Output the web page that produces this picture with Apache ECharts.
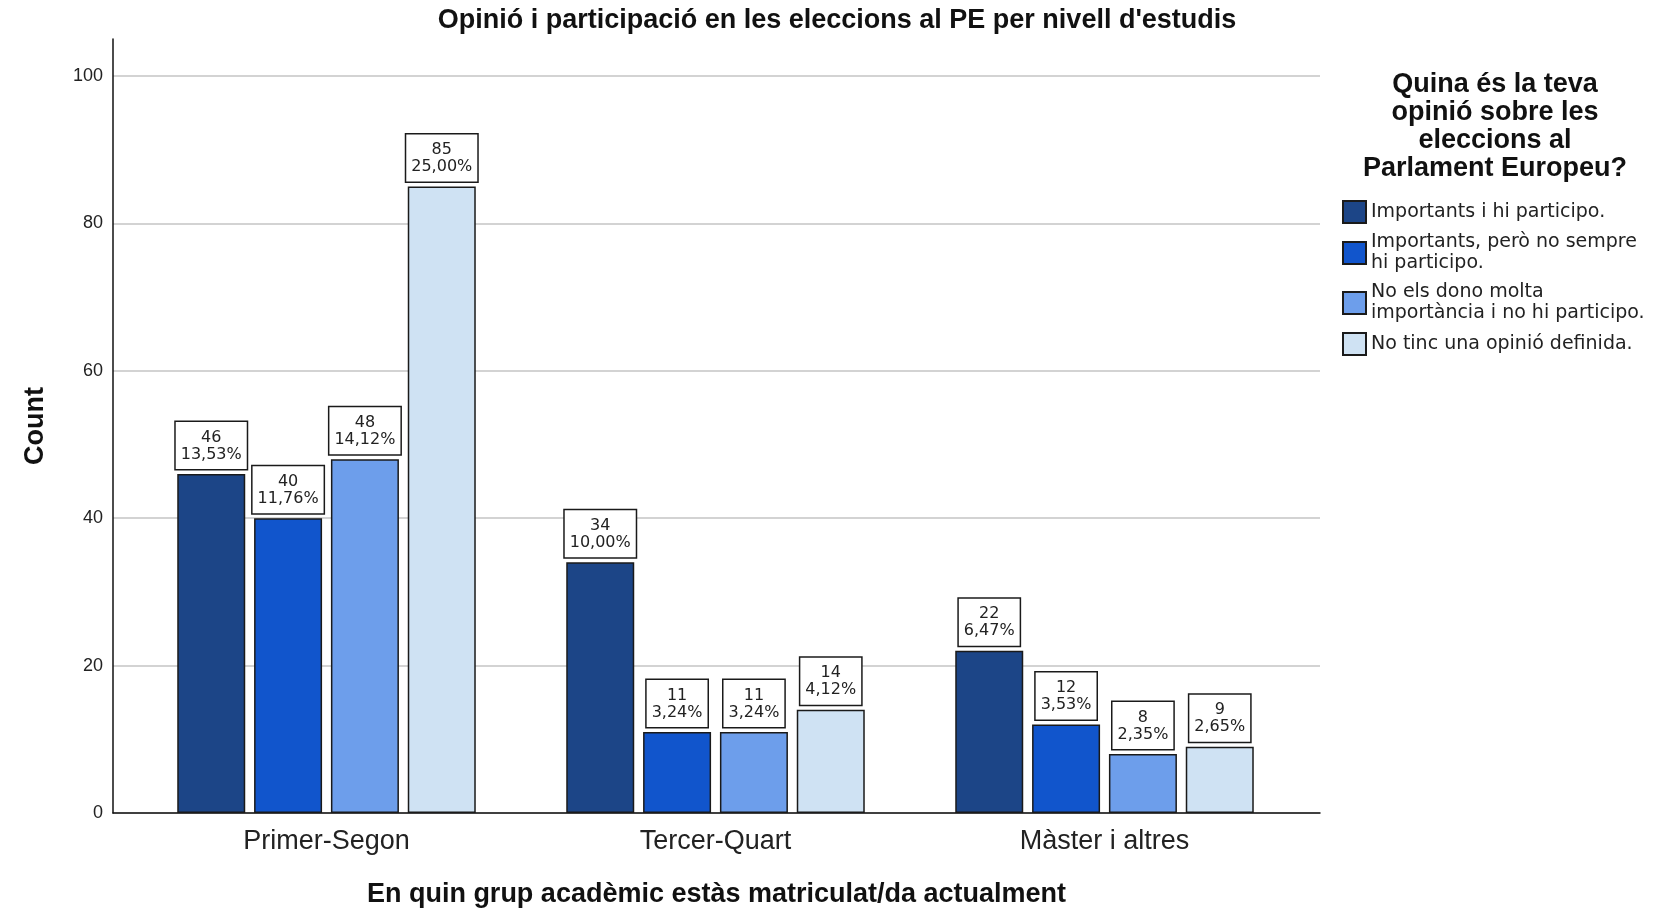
<!DOCTYPE html>
<html>
<head>
<meta charset="utf-8">
<script src="https://cdn.jsdelivr.net/npm/echarts@6/dist/echarts.min.js"></script>
<style>
  html, body { margin: 0; padding: 0; background: #fff; }
  #chart { width: 1678px; height: 909px; }
</style>
</head>
<body>
<div id="chart"></div>
<script>
// grups acadèmics (eix x)
const groups = ['Primer-Segon', 'Tercer-Quart', 'Màster i altres'];

// opinions (sèries), amb salt de línia com a la llegenda
const opinions = [
  'Importants i hi participo.',
  'Importants, però no sempre\nhi participo.',
  'No els dono molta\nimportància i no hi participo.',
  'No tinc una opinió definida.'
];

// recomptes per opinió
const countImportantVote = [46, 34, 22];
const countImportantSometimes = [40, 11, 12];
const countNoImportance = [48, 11, 8];
const countNoOpinion = [85, 14, 9];

// percentatges sobre el total
const pctImportantVote = [13.53, 10.00, 6.47];
const pctImportantSometimes = [11.76, 3.24, 3.53];
const pctNoImportance = [14.12, 3.24, 2.35];
const pctNoOpinion = [25.00, 4.12, 2.65];

const yTicks = [0, 20, 40, 60, 80, 100];

const colors = ['#1c4587', '#1155cc', '#6d9eeb', '#cfe2f3'];
const counts = [countImportantVote, countImportantSometimes, countNoImportance, countNoOpinion];
const pcts = [pctImportantVote, pctImportantSometimes, pctNoImportance, pctNoOpinion];

const chart = echarts.init(document.getElementById('chart'));

const series = opinions.map((name, i) => ({
  name: name,
  type: 'bar',
  xAxisIndex: 1,
  yAxisIndex: 1,
  barWidth: 68,
  barGap: '13%',
  itemStyle: { color: colors[i], borderColor: '#1a1a1a', borderWidth: 1.5 },
  label: {
    show: true,
    position: 'top',
    distance: 5,
    formatter: p => p.value + '\n' + pcts[i][p.dataIndex].toFixed(2).replace('.', ',') + '%',
    fontFamily: 'DejaVu Sans',
    fontSize: 16,
    lineHeight: 17,
    color: '#222',
    backgroundColor: '#fff',
    borderColor: '#1a1a1a',
    borderWidth: 1.5,
    padding: [7, 5, 6, 5]
  },
  data: counts[i]
}));

const option = {
  animation: false,
  backgroundColor: '#fff',
  graphic: [
    {
      type: 'text', x: 837, y: 21,
      style: {
        text: "Opinió i participació en les eleccions al PE per nivell d'estudis",
        font: 'bold 27px "Liberation Sans", Arial, sans-serif',
        fill: '#111', textAlign: 'center', textVerticalAlign: 'middle'
      }
    },
    {
      type: 'text', x: 1495, y: 127,
      style: {
        text: 'Quina és la teva\nopinió sobre les\neleccions al\nParlament Europeu?',
        font: 'bold 27px "Liberation Sans", Arial, sans-serif',
        lineHeight: 28,
        fill: '#111', textAlign: 'center', textVerticalAlign: 'middle'
      }
    }
  ],
  legend: {
    orient: 'vertical',
    left: 1342,
    top: 200,
    padding: 0,
    itemGap: 8,
    itemWidth: 23,
    itemHeight: 22,
    icon: 'rect',
    data: opinions,
    textStyle: { fontFamily: 'DejaVu Sans', fontSize: 19, lineHeight: 21, color: '#222' }
  },
  grid: [
    { left: 113, right: 358, top: 39, bottom: 96, outerBoundsMode: 'none', containLabel: false },
    { left: 132, right: 379, top: 39, bottom: 96, outerBoundsMode: 'none', containLabel: false }
  ],
  xAxis: [
    {
      type: 'value', gridIndex: 0, min: 0, max: 1,
      axisLine: { show: true, lineStyle: { color: '#111', width: 1.5 } },
      axisTick: { show: false }, axisLabel: { show: false }, splitLine: { show: false },
      name: 'En quin grup acadèmic estàs matriculat/da actualment',
      nameLocation: 'middle',
      nameGap: 68,
      nameTextStyle: { fontFamily: 'Liberation Sans', fontWeight: 'bold', fontSize: 27, color: '#111' }
    },
    {
      type: 'category', gridIndex: 1, data: groups,
      axisLine: { show: false }, axisTick: { show: false },
      axisLabel: { margin: 15, fontFamily: 'Liberation Sans', fontSize: 27, color: '#222' }
    }
  ],
  yAxis: [
    {
      type: 'value', gridIndex: 0, min: 0, max: 105, interval: 20,
      axisLine: { show: true, lineStyle: { color: '#111', width: 1.5 } },
      axisTick: { show: false },
      axisLabel: {
        margin: 10, fontFamily: 'Liberation Sans', fontSize: 18, color: '#222',
        formatter: v => (yTicks.indexOf(v) >= 0 ? String(v) : '')
      },
      splitLine: { show: true, showMaxLine: false, lineStyle: { color: '#c4c4c4', width: 1.5 } },
      name: 'Count',
      nameLocation: 'middle',
      nameGap: 64,
      nameTextStyle: { fontFamily: 'Liberation Sans', fontWeight: 'bold', fontSize: 27, color: '#111' }
    },
    {
      type: 'value', gridIndex: 1, min: 0, max: 105, interval: 20, show: false,
      splitLine: { show: false }
    }
  ],
  series: series
};

chart.setOption(option);
</script>
</body>
</html>
